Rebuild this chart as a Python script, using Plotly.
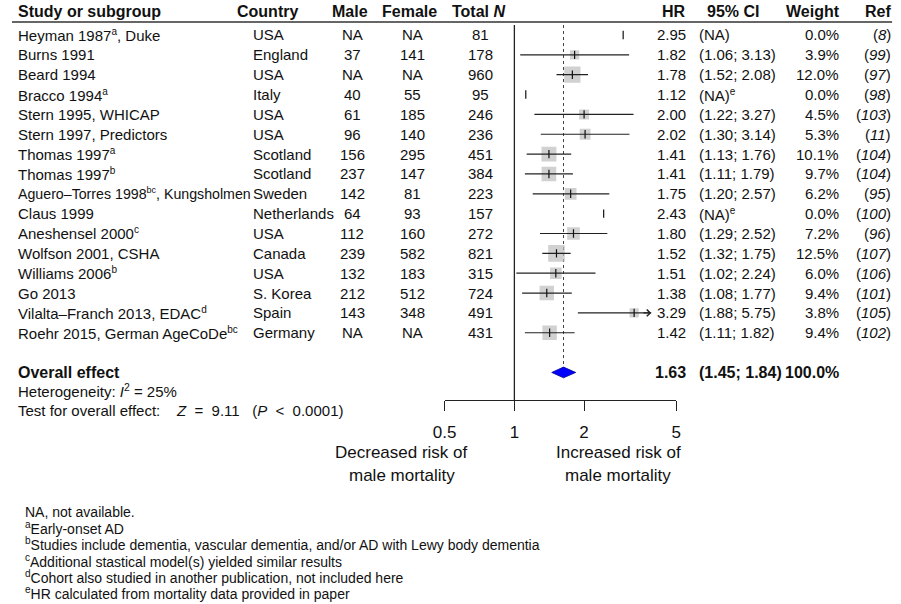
import math
import plotly.graph_objects as go

# ---------------- data ----------------
studies = ["Heyman 1987<sup>a</sup>, Duke", "Burns 1991", "Beard 1994", "Bracco 1994<sup>a</sup>",
           "Stern 1995, WHICAP", "Stern 1997, Predictors", "Thomas 1997<sup>a</sup>", "Thomas 1997<sup>b</sup>",
           "Aguero–Torres 1998<sup>bc</sup>, Kungsholmen", "Claus 1999", "Aneshensel 2000<sup>c</sup>",
           "Wolfson 2001, CSHA", "Williams 2006<sup>b</sup>", "Go 2013", "Vilalta–Franch 2013, EDAC<sup>d</sup>",
           "Roehr 2015, German AgeCoDe<sup>bc</sup>"]
countries = ["USA", "England", "USA", "Italy", "USA", "USA", "Scotland", "Scotland", "Sweden", "Netherlands",
             "USA", "Canada", "USA", "S. Korea", "Spain", "Germany"]
male = ["NA", "37", "NA", "40", "61", "96", "156", "237", "142", "64", "112", "239", "132", "212", "143", "NA"]
female = ["NA", "141", "NA", "55", "185", "140", "295", "147", "81", "93", "160", "582", "183", "512", "348", "NA"]
total_n = [81, 178, 960, 95, 246, 236, 451, 384, 223, 157, 272, 821, 315, 724, 491, 431]
hr = [2.95, 1.82, 1.78, 1.12, 2.00, 2.02, 1.41, 1.41, 1.75, 2.43, 1.80, 1.52, 1.51, 1.38, 3.29, 1.42]
ci_lo = [None, 1.06, 1.52, None, 1.22, 1.30, 1.13, 1.11, 1.20, None, 1.29, 1.32, 1.02, 1.08, 1.88, 1.11]
ci_hi = [None, 3.13, 2.08, None, 3.27, 3.14, 1.76, 1.79, 2.57, None, 2.52, 1.75, 2.24, 1.77, 5.75, 1.82]
ci_note = ["", "", "", "e", "", "", "", "", "", "e", "", "", "", "", "", ""]
weight = [0.0, 3.9, 12.0, 0.0, 4.5, 5.3, 10.1, 9.7, 6.2, 0.0, 7.2, 12.5, 6.0, 9.4, 3.8, 9.4]
refs = [8, 99, 97, 98, 103, 11, 104, 104, 95, 100, 96, 107, 106, 101, 105, 102]

overall_hr, overall_lo, overall_hi = 1.63, 1.45, 1.84
overall_weight = "100.0%"
heterogeneity_i2 = 25
z_value = "9.11"
p_text = "0.0001"

axis_ticks = [0.5, 1, 2, 5]
axis_ticktext = ["0.5", "1", "2", "5"]
x_clip = 3.9  # plotting limit of the forest panel (arrow beyond)

footnotes = ["NA, not available.",
             "<sup>a</sup>Early-onset AD",
             "<sup>b</sup>Studies include dementia, vascular dementia, and/or AD with Lewy body dementia",
             "<sup>c</sup>Additional stastical model(s) yielded similar results",
             "<sup>d</sup>Cohort also studied in another publication, not included here",
             "<sup>e</sup>HR calculated from mortality data provided in paper"]

# ---------------- layout helpers ----------------
W, H = 901, 604
FONT = "Liberation Sans, Arial, Helvetica, sans-serif"
ROW0, STEP = 35.0, 19.85
Y_TOP, Y_BOT = 22.0, 400.0
X_LEFT_PX, X_RIGHT_PX = 441.0, 677.0
LABEL_SIZE = {8: 14.2}  # long label drawn a touch smaller so it does not run into the next column
NB = "\u00a0"


def row_of_px(p):
    return 1 + (p - ROW0) / STEP


def px(x):
    return x / W


def py(y):
    return 1 - y / H


def small_sup(s, size=10):
    return s.replace("<sup>", f"<sup><span style='font-size:{size}px'>").replace("</sup>", "</span></sup>")


n = len(studies)
rows = list(range(1, n + 1))
overall_row = n + 2

fig = go.Figure()

# reference line at 1
fig.add_trace(go.Scatter(x=[1, 1], y=[row_of_px(25), row_of_px(Y_BOT)], mode="lines",
                         line=dict(color="#222", width=1.3), hoverinfo="skip"))
# dotted line at overall estimate
fig.add_trace(go.Scatter(x=[overall_hr, overall_hr], y=[row_of_px(25), overall_row - 0.25], mode="lines",
                         line=dict(color="#444", width=1, dash="dot"), hoverinfo="skip"))

# squares
sq_x = [h for h, w in zip(hr, weight) if w > 0]
sq_y = [r for r, w in zip(rows, weight) if w > 0]
sq_s = [4.7 * math.sqrt(w) for w in weight if w > 0]
fig.add_trace(go.Scatter(x=sq_x, y=sq_y, mode="markers",
                         marker=dict(symbol="square", size=sq_s, color="#bdbdbd", line=dict(width=0)),
                         hoverinfo="skip"))

# CI lines
lx, ly = [], []
arrow_rows = []
for r, lo, hi in zip(rows, ci_lo, ci_hi):
    if lo is None:
        continue
    end = min(hi, x_clip)
    if hi > x_clip:
        arrow_rows.append(r)
    lx += [lo, end, None]
    ly += [r, r, None]
fig.add_trace(go.Scatter(x=lx, y=ly, mode="lines", line=dict(color="#222", width=1.2), hoverinfo="skip"))

# point estimate ticks
fig.add_trace(go.Scatter(x=hr, y=rows, mode="markers",
                         marker=dict(symbol="line-ns-open", size=6, color="#111",
                                     line=dict(color="#111", width=1.2)),
                         hoverinfo="skip"))

# diamond
dh = 0.27
fig.add_trace(go.Scatter(x=[overall_lo, overall_hr, overall_hi, overall_hr, overall_lo],
                         y=[overall_row, overall_row - dh, overall_row, overall_row + dh, overall_row],
                         mode="lines", fill="toself", fillcolor="#0000ff",
                         line=dict(color="#00008b", width=0.8), hoverinfo="skip"))

annotations = []


def txt(text, x, y, xanchor="left", size=15, yref="y", color="#111"):
    annotations.append(dict(text=text, x=x, y=y, xref="paper", yref=yref, xanchor=xanchor,
                            yanchor="middle", showarrow=False, borderpad=0,
                            font=dict(family=FONT, size=size, color=color)))


# arrows for clipped CIs
for r in arrow_rows:
    annotations.append(dict(x=math.log10(x_clip), y=r, ax=math.log10(x_clip) - 0.04, ay=r,
                            xref="x", yref="y", axref="x", ayref="y", text="", showarrow=True,
                            arrowhead=4, arrowsize=1.1, arrowwidth=1.2, arrowcolor="#222", standoff=0))

# headers
hy = py(12)
txt("<b>Study or subgroup</b>", px(5), hy, size=16, yref="paper")
txt("<b>Country</b>", px(228), hy, size=16, yref="paper")
txt("<b>Male</b>", px(344), hy, "center", 16, "paper")
txt("<b>Female</b>", px(405), hy, "center", 16, "paper")
txt("<b>Total <i>N</i></b>", px(475), hy, "center", 16, "paper")
txt("<b>HR</b>", px(688), hy, "right", 16, "paper")
txt("<b>95% CI</b>", px(735), hy, "center", 16, "paper")
txt("<b>Weight</b>", px(845), hy, "right", 16, "paper")
txt("<b>Ref</b>", px(897), hy, "right", 16, "paper")

# rows
for i, r in enumerate(rows):
    sz = LABEL_SIZE.get(i, 15)
    txt(small_sup(studies[i], 9 if i in LABEL_SIZE else 10), px(5), r, size=sz)
    txt(countries[i], px(245), r)
    txt(male[i], px(347), r, "center")
    txt(female[i], px(408), r, "center")
    txt(str(total_n[i]), px(478), r, "center")
    txt(f"{hr[i]:.2f}", px(688), r, "right")
    if ci_lo[i] is None:
        ci = "(NA)" + (small_sup(f"<sup>{ci_note[i]}</sup>") if ci_note[i] else "")
    else:
        ci = f"({ci_lo[i]:.2f}; {ci_hi[i]:.2f})"
    txt(ci, px(699), r)
    txt(f"{weight[i]:.1f}%", px(844), r, "right")
    txt(f"(<i>{refs[i]}</i>)", px(897), r, "right")

# overall
txt("<b>Overall effect</b>", px(5), overall_row, size=16)
txt(f"<b>{overall_hr:.2f}</b>", px(688), overall_row, "right", 16)
txt(f"<b>({overall_lo:.2f}; {overall_hi:.2f})</b>", px(699), overall_row, "left", 16)
txt(f"<b>{overall_weight}</b>", px(844), overall_row, "right", 16)
txt(f"Heterogeneity: <i>I</i><sup>2</sup> = {heterogeneity_i2}%", px(5), py(390), yref="paper")
txt(f"Test for overall effect:{NB}{NB}{NB} <i>Z</i>{NB} ={NB} {z_value}{NB}{NB} (<i>P</i>{NB} &lt;{NB} {p_text})",
    px(5), py(410), yref="paper")

# bottom labels
txt("Decreased risk of", px(397), py(452), "center", 17, "paper")
txt("male mortality", px(397), py(475), "center", 17, "paper")
txt("Increased risk of", px(618), py(452), "center", 17, "paper")
txt("male mortality", px(618), py(475), "center", 17, "paper")

# footnotes
for k, f in enumerate(footnotes):
    txt(small_sup(f, 10), px(12), py(512 + 16.2 * k), size=14, yref="paper")

fig.update_layout(
    width=W, height=H, margin=dict(l=0, r=0, t=0, b=0),
    paper_bgcolor="white", plot_bgcolor="rgba(0,0,0,0)", showlegend=False,
    annotations=annotations,
    shapes=[dict(type="line", xref="paper", yref="paper", x0=0, x1=px(897), y0=py(22), y1=py(22),
                 line=dict(color="#333", width=1.3))],
    xaxis=dict(type="log", range=[math.log10(axis_ticks[0]), math.log10(axis_ticks[-1])],
               domain=[px(X_LEFT_PX), px(X_RIGHT_PX)], tickvals=axis_ticks, ticktext=axis_ticktext,
               ticks="outside", ticklen=10, tickcolor="#222", tickwidth=1.3,
               showline=True, linecolor="#222", linewidth=1.3, showgrid=False, zeroline=False,
               tickfont=dict(family=FONT, size=17, color="#111"), ticklabelstandoff=6,
               fixedrange=True),
    yaxis=dict(range=[row_of_px(Y_BOT), row_of_px(Y_TOP)], domain=[py(Y_BOT), py(Y_TOP)],
               visible=False, fixedrange=True),
)

fig.write_html("out.html", config={"displayModeBar": False},
               post_script="document.body.style.margin='0';document.body.style.overflow='hidden';")
